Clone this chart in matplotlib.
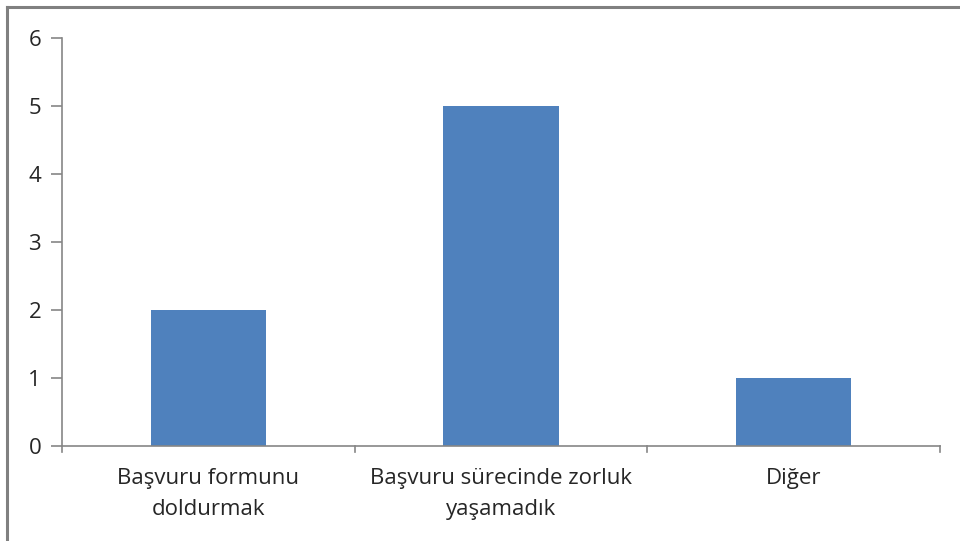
import matplotlib
matplotlib.use("Agg")
import matplotlib.pyplot as plt
from matplotlib.lines import Line2D

categories = ["Başvuru formunu\ndoldurmak", "Başvuru sürecinde zorluk\nyaşamadık", "Diğer"]
values = [2, 5, 1]
yticks = [0, 1, 2, 3, 4, 5, 6]

plt.rcParams['font.family'] = ['Open Sans', 'DejaVu Sans']
axis_color = "#868686"
text_color = "#262626"

fig = plt.figure(figsize=(9.6, 5.41), dpi=100)
ax = fig.add_axes([62/960, 1-446/541, (940-62)/960, (446-38)/541])

x = list(range(len(categories)))
ax.bar(x, values, width=0.395, color="#4F81BD", zorder=2)
ax.set_xlim(-0.5, len(categories)-0.5)
ax.set_ylim(0, 6)
ax.set_yticks(yticks)
ax.set_yticklabels([str(t) for t in yticks])
ax.set_xticks(x)
ax.set_xticklabels(categories, linespacing=1.62)

for s in ["top", "right"]:
    ax.spines[s].set_visible(False)
for s in ["left", "bottom"]:
    ax.spines[s].set_color(axis_color)
    ax.spines[s].set_linewidth(1.2)

ax.tick_params(axis='y', length=8, width=1.2, color=axis_color, labelsize=16, labelcolor=text_color, pad=7)
ax.tick_params(axis='x', length=0, labelsize=16, labelcolor=text_color, pad=16)

# category boundary tick marks
for b in [-0.5, 0.5, 1.5, 2.5]:
    ax.plot([b, b], [0, -0.09], color=axis_color, lw=1.2, clip_on=False, transform=ax.transData)

# figure border (left and top visible)
fig.add_artist(Line2D([7/960, 7/960], [0, 1-7/541], color="#808080", lw=2.2, transform=fig.transFigure))
fig.add_artist(Line2D([7/960, 1], [1-7/541, 1-7/541], color="#808080", lw=2.2, transform=fig.transFigure))

fig.savefig("out.png", dpi=100)
